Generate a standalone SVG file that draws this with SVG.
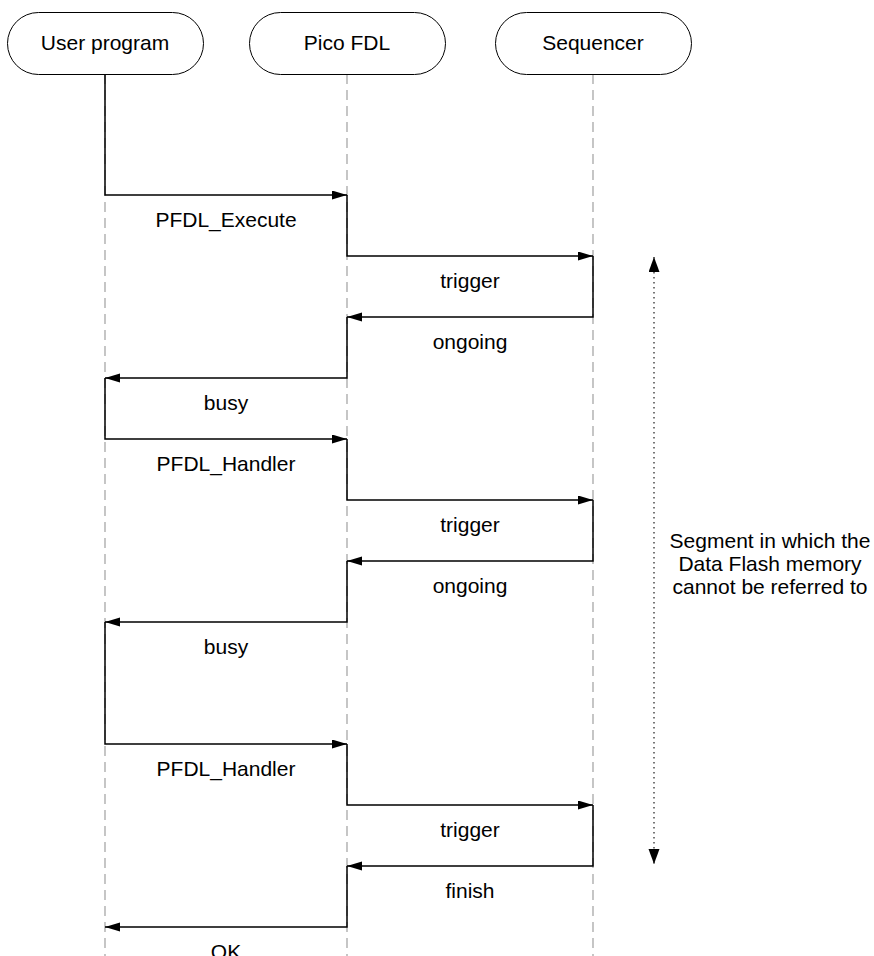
<svg xmlns="http://www.w3.org/2000/svg" width="874" height="956" viewBox="0 0 874 956">
  <style>
    .box { fill: #ffffff; stroke: #000000; stroke-width: 1; }
    .life { fill: none; stroke: #a0a0a0; stroke-width: 1.2; stroke-dasharray: 10 6; }
    .msg { fill: none; stroke: #000000; stroke-width: 1.5; stroke-linejoin: miter; marker-end: url(#arrow); }
    .span { fill: none; stroke: #555555; stroke-width: 1.6; stroke-dasharray: 1.6 3.4; marker-start: url(#arrowS); marker-end: url(#arrowS); }
    text { font-family: "Liberation Sans", Arial, sans-serif; font-size: 21px; fill: #000000; text-anchor: middle; }
  </style>
  <defs>
    <marker id="arrow" markerUnits="userSpaceOnUse" markerWidth="16" markerHeight="10" refX="15" refY="4.5" orient="auto">
      <path d="M0,0 L15,4.5 L0,9 Z" fill="#000000"/>
    </marker>
    <marker id="arrowS" markerUnits="userSpaceOnUse" markerWidth="16" markerHeight="12" refX="15" refY="5.5" orient="auto-start-reverse">
      <path d="M0,0 L15,5.5 L0,11 Z" fill="#000000"/>
    </marker>
  </defs>
  <rect x="0" y="0" width="874" height="956" fill="#ffffff"/>

  <g id="user-program">
    <line class="life" x1="105" y1="74" x2="105" y2="956"/>
    <rect class="box" x="7.5" y="12.5" width="196" height="62" rx="31" ry="31"/>
    <text x="105" y="50">User program</text>
  </g>
  <g id="pico-fdl">
    <line class="life" x1="347" y1="74" x2="347" y2="956"/>
    <rect class="box" x="249.5" y="12.5" width="196" height="62" rx="31" ry="31"/>
    <text x="347" y="50">Pico FDL</text>
  </g>
  <g id="sequencer">
    <line class="life" x1="593" y1="74" x2="593" y2="956"/>
    <rect class="box" x="495.5" y="12.5" width="196" height="62" rx="31" ry="31"/>
    <text x="593" y="50">Sequencer</text>
  </g>

  <g id="connectors">
    <path class="msg" d="M105,74.5 V195 H347"/>
    <path class="msg" d="M347,195 V256 H593"/>
    <path class="msg" d="M593,256 V317 H347"/>
    <path class="msg" d="M347,317 V378 H105"/>
    <path class="msg" d="M105,378 V439 H347"/>
    <path class="msg" d="M347,439 V500 H593"/>
    <path class="msg" d="M593,500 V561 H347"/>
    <path class="msg" d="M347,561 V622 H105"/>
    <path class="msg" d="M105,622 V744 H347"/>
    <path class="msg" d="M347,744 V805 H593"/>
    <path class="msg" d="M593,805 V866 H347"/>
    <path class="msg" d="M347,866 V927 H105"/>
    <path class="span" d="M654,257 V864"/>
  </g>

  <g id="labels">
    <text x="226" y="227">PFDL_Execute</text>
    <text x="470" y="288">trigger</text>
    <text x="470" y="349">ongoing</text>
    <text x="226" y="410">busy</text>
    <text x="226" y="471">PFDL_Handler</text>
    <text x="470" y="532">trigger</text>
    <text x="470" y="593">ongoing</text>
    <text x="226" y="654">busy</text>
    <text x="226" y="776">PFDL_Handler</text>
    <text x="470" y="837">trigger</text>
    <text x="470" y="898">finish</text>
    <text x="226" y="959">OK</text>
  </g>

  <g id="segment-note">
    <text x="770" y="548">Segment in which the</text>
    <text x="770" y="571">Data Flash memory</text>
    <text x="770" y="594">cannot be referred to</text>
  </g>
</svg>
